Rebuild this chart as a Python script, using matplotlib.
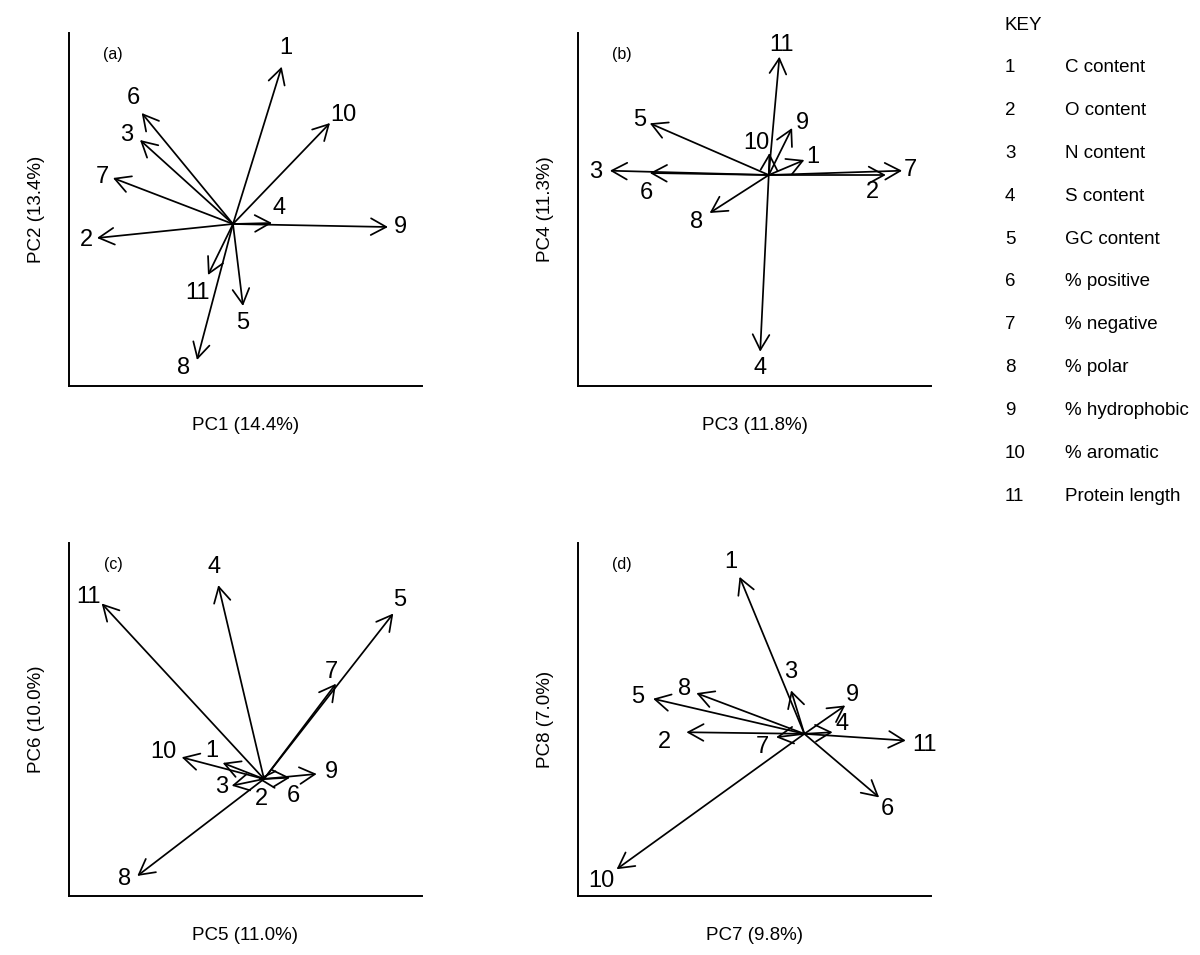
import matplotlib.pyplot as plt

plt.rcParams['font.family'] = ['Liberation Sans', 'DejaVu Sans']

# variable numbers 1..11
ids = ['1', '2', '3', '4', '5', '6', '7', '8', '9', '10', '11']
key_names = ['C content', 'O content', 'N content', 'S content', 'GC content',
             '% positive', '% negative', '% polar', '% hydrophobic',
             '% aromatic', 'Protein length']

# arrow tips (x, y) and label positions, in biplot units, order = ids
a_x = [48.7, -136, -93, 39, 10, -91.3, -120, -36, 155, 97, -25]
a_y = [157.3, -14, 84, 1, -82, 111, 46, -136, -3, 101, -51]
a_lx = [53, -147, -106, 46, 10, -100, -131, -49, 167, 110, -36]
a_ly = [176, -16, 89, 16, -99, 126, 47, -144, -3, 109, -69]

b_x = [35.7, 117.4, -159.3, -8.6, -119.3, -119.3, 133.7, -59.3, 23.4, 0.7, 10.7]
b_y = [15, 0, 4.3, -176.7, 51.7, 2, 4.3, -38, 47, 22, 118.3]
b_lx = [43.7, 103.7, -173.3, -8.6, -129.3, -122.3, 142.4, -72.6, 33.7, -12.6, 12.4]
b_ly = [18.3, -16.7, 3.3, -193, 55, -18, 5, -46.7, 52, 32, 130]

c_x = [-41.3, -6, -32.3, -45.7, 129.3, 26, 72, -126.7, 52.7, -82.3, -162.3]
c_y = [16, 0.3, -6.7, 193.3, 165, 1.3, 95, -96.7, 5, 21.6, 175]
c_lx = [-52.3, -2.3, -42.3, -50, 136, 29.3, 67.7, -139, 67.7, -100.7, -175.7]
c_ly = [28.3, -20, -8.4, 211.6, 178.3, -16.7, 106.6, -100, 6.6, 26.6, 181.6]

d_x = [-65, -118.3, -13.3, 28.3, -151.7, 75, -28.3, -108.3, 41, -188.3, 101.7]
d_y = [156.6, 1.6, 43.3, 1.6, 35, -63.4, -3.4, 40.6, 28.3, -135, -6.7]
d_lx = [-73.3, -140, -13.3, 38.3, -166.7, 83.3, -42.3, -120, 48.3, -203.3, 120]
d_ly = [171.6, -8.4, 61.6, 10, 36.6, -75, -12.7, 45, 38.3, -146.7, -10.7]

panels = [
    # tag, xlab, ylab, xs, ys, lxs, lys, xlim, ylim, box (left, top px)
    ('(a)', 'PC1 (14.4%)', 'PC2 (13.4%)', a_x, a_y, a_lx, a_ly, (-164, 189), (-162, 191), (69, 33)),
    ('(b)', 'PC3 (11.8%)', 'PC4 (11.3%)', b_x, b_y, b_lx, b_ly, (-191.3, 162.7), (-211, 142), (578, 33)),
    ('(c)', 'PC5 (11.0%)', 'PC6 (10.0%)', c_x, c_y, c_lx, c_ly, (-195, 158), (-116.7, 235.3), (69, 543)),
    ('(d)', 'PC7 (9.8%)', 'PC8 (7.0%)', d_x, d_y, d_lx, d_ly, (-227, 127), (-161.7, 190.3), (578, 543)),
]

W, H = 1200, 955
fig = plt.figure(figsize=(12, 9.55), dpi=100)
bw, bh = 353, 353

for tag, xlab, ylab, xs, ys, lxs, lys, xl, yl, (bl, bt) in panels:
    ax = fig.add_axes([bl / W, 1 - (bt + bh) / H, bw / W, bh / H])
    ax.set_xlim(xl)
    ax.set_ylim(yl)
    for s in ['top', 'right']:
        ax.spines[s].set_visible(False)
    for s in ['left', 'bottom']:
        ax.spines[s].set_linewidth(1.4)
    ax.set_xticks([])
    ax.set_yticks([])
    ax.set_xlabel(xlab, fontsize=13.5, labelpad=22)
    ax.set_ylabel(ylab, fontsize=13.5, labelpad=17)
    ax.text(0.125, 0.94, tag, transform=ax.transAxes, fontsize=11.5,
            ha='center', va='center')
    for i in range(len(ids)):
        ax.annotate('', xy=(xs[i], ys[i]), xytext=(0, 0),
                    arrowprops=dict(arrowstyle='->,head_length=1.1,head_width=0.6',
                                    lw=1.25, color='black', shrinkA=0, shrinkB=0,
                                    mutation_scale=10))
        ax.text(lxs[i], lys[i], ids[i], fontsize=17, ha='center', va='center')

# key
fig.text(1005 / W, 1 - 25 / H, 'KEY', fontsize=13.5, ha='left', va='center')
for i in range(len(ids)):
    yy = 1 - (68 + i * 42.8) / H
    fig.text(1005 / W, yy, ids[i], fontsize=13.5, ha='left', va='center')
    fig.text(1065 / W, yy, key_names[i], fontsize=13.5, ha='left', va='center')

fig.savefig('out.png', dpi=100)
